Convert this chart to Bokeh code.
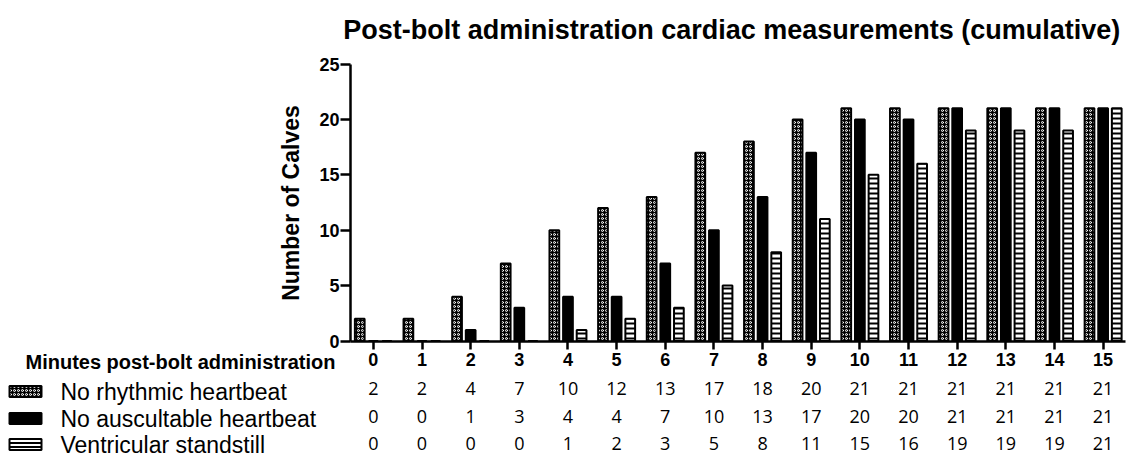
from bokeh.plotting import figure
from bokeh.models import Range1d, FixedTicker, ColumnDataSource, LinearAxis
from bokeh.transform import dodge
from bokeh.core.properties import value
from bokeh.embed import file_html
from bokeh.resources import INLINE

# ---------------- data ----------------
minutes = list(range(16))
no_rhythmic = [2, 2, 4, 7, 10, 12, 13, 17, 18, 20, 21, 21, 21, 21, 21, 21]
no_auscultable = [0, 0, 1, 3, 4, 4, 7, 10, 13, 17, 20, 20, 21, 21, 21, 21]
standstill = [0, 0, 0, 0, 1, 2, 3, 5, 8, 11, 15, 16, 19, 19, 19, 21]
series_labels = ["No rhythmic heartbeat", "No auscultable heartbeat", "Ventricular standstill"]
row_header = "Minutes post-bolt administration"
title_text = "Post-bolt administration cardiac measurements  (cumulative)"
y_label = "Number of Calves"
y_ticks = [0, 5, 10, 15, 20, 25]

# ---------------- layout (page pixels) ----------------
PAGE_L, PAGE_R, PAGE_T, PAGE_B = 0, 1146, 0, 457
AX_X, AX_RIGHT, AX_Y, AX_TOP = 350, 1125, 340.5, 63.5
X0, X1 = -0.47, 15.46
Y0, Y1 = 0, 25
SX = (AX_RIGHT - AX_X) / (X1 - X0)
SY = (AX_Y - AX_TOP) / (Y1 - Y0)


def dx(px):
    return X0 + (px - AX_X) / SX


def dy(py):
    return Y0 + (AX_Y - py) / SY


FONT = value("Liberation Sans")
NUMFONT = value("Open Sans")

src = ColumnDataSource(dict(m=minutes, r=no_rhythmic, a=no_auscultable, s=standstill))

p = figure(width=PAGE_R - PAGE_L, height=PAGE_B - PAGE_T,
           x_range=Range1d(dx(PAGE_L), dx(PAGE_R)),
           y_range=Range1d(dy(PAGE_B), dy(PAGE_T)),
           x_axis_type=None, y_axis_type=None,
           min_border=0, toolbar_location=None, output_backend="svg")
p.outline_line_color = None
p.grid.visible = False

# y axis at the left edge of the data area
ya = LinearAxis(fixed_location=X0, bounds=(Y0, Y1), ticker=FixedTicker(ticks=y_ticks))
ya.axis_label = y_label
ya.axis_label_text_font = "Liberation Sans"
ya.axis_label_text_font_size = "23px"
ya.axis_label_text_font_style = "bold"
ya.axis_label_text_color = "black"
ya.axis_label_standoff = 12
ya.major_label_text_font = "Liberation Sans"
ya.major_label_text_font_size = "18px"
ya.major_label_text_font_style = "bold"
ya.major_label_text_color = "black"
ya.major_label_standoff = 1
ya.major_tick_out = 10
ya.major_tick_in = 0
ya.minor_tick_out = 0
ya.minor_tick_in = 0
ya.axis_line_width = 2.5
ya.major_tick_line_width = 2.5
p.add_layout(ya, "left")

# x axis at y = 0, tick labels are the minutes row
xa = LinearAxis(fixed_location=Y0, bounds=(X0, X1), ticker=FixedTicker(ticks=minutes))
xa.major_label_text_font = "Liberation Sans"
xa.major_label_text_font_size = "18px"
xa.major_label_text_font_style = "bold"
xa.major_label_text_color = "black"
xa.major_label_standoff = 4
xa.major_tick_out = 8
xa.major_tick_in = 0
xa.minor_tick_out = 0
xa.minor_tick_in = 0
xa.axis_line_width = 2.5
xa.major_tick_line_width = 2.5
p.add_layout(xa, "below")

W = 0.2
OFF = 0.28
p.vbar(x=dodge("m", -OFF, range=p.x_range), top="r", bottom=Y0, width=W, source=src,
       fill_color="black", line_color="black", line_width=2,
       hatch_pattern="ring", hatch_color="white", hatch_scale=4, hatch_weight=1)
p.vbar(x="m", top="a", bottom=Y0, width=W, source=src,
       fill_color="black", line_color="black", line_width=2)
p.vbar(x=dodge("m", OFF, range=p.x_range), top="s", bottom=Y0, width=W, source=src,
       fill_color="white", line_color="black", line_width=2,
       hatch_pattern="horizontal_line", hatch_color="black", hatch_scale=5, hatch_weight=2)

# title
p.text(x=[dx(735)], y=[dy(29)], text=[title_text], text_font=FONT,
       text_font_size="27px", text_font_style="bold", text_align="center",
       text_baseline="alphabetic", text_color="black")

# table below the axis
row_px = [388, 416, 443]
for rp, vals in zip(row_px, (no_rhythmic, no_auscultable, standstill)):
    p.text(x=minutes, y=[dy(rp)] * len(minutes), text=[str(v) for v in vals],
           text_font=NUMFONT, text_font_size="18px",
           text_align="center", text_baseline="middle", text_color="black")

p.text(x=[dx(335)], y=[dy(361)], text=[row_header], text_font=FONT,
       text_font_size="20px", text_font_style="bold",
       text_align="right", text_baseline="middle", text_color="black")

legend_px = [391, 418, 444]
p.text(x=[dx(60)] * 3, y=[dy(v) for v in legend_px], text=series_labels, text_font=FONT,
       text_font_size="23px", text_align="left", text_baseline="middle",
       text_color="black")

sx = dx(25)
p.rect(x=[sx], y=[dy(legend_px[0])], width=32, height=11, width_units="screen",
       height_units="screen", fill_color="black", line_color="black", line_width=2,
       hatch_pattern="ring", hatch_color="white", hatch_scale=4, hatch_weight=1)
p.rect(x=[sx], y=[dy(legend_px[1])], width=32, height=11, width_units="screen",
       height_units="screen", fill_color="black", line_color="black", line_width=2)
p.rect(x=[sx], y=[dy(legend_px[2])], width=32, height=11, width_units="screen",
       height_units="screen", fill_color="white", line_color="black", line_width=2,
       hatch_pattern="horizontal_line", hatch_color="black", hatch_scale=4, hatch_weight=2)

open("out.html", "w").write(file_html(p, INLINE))
